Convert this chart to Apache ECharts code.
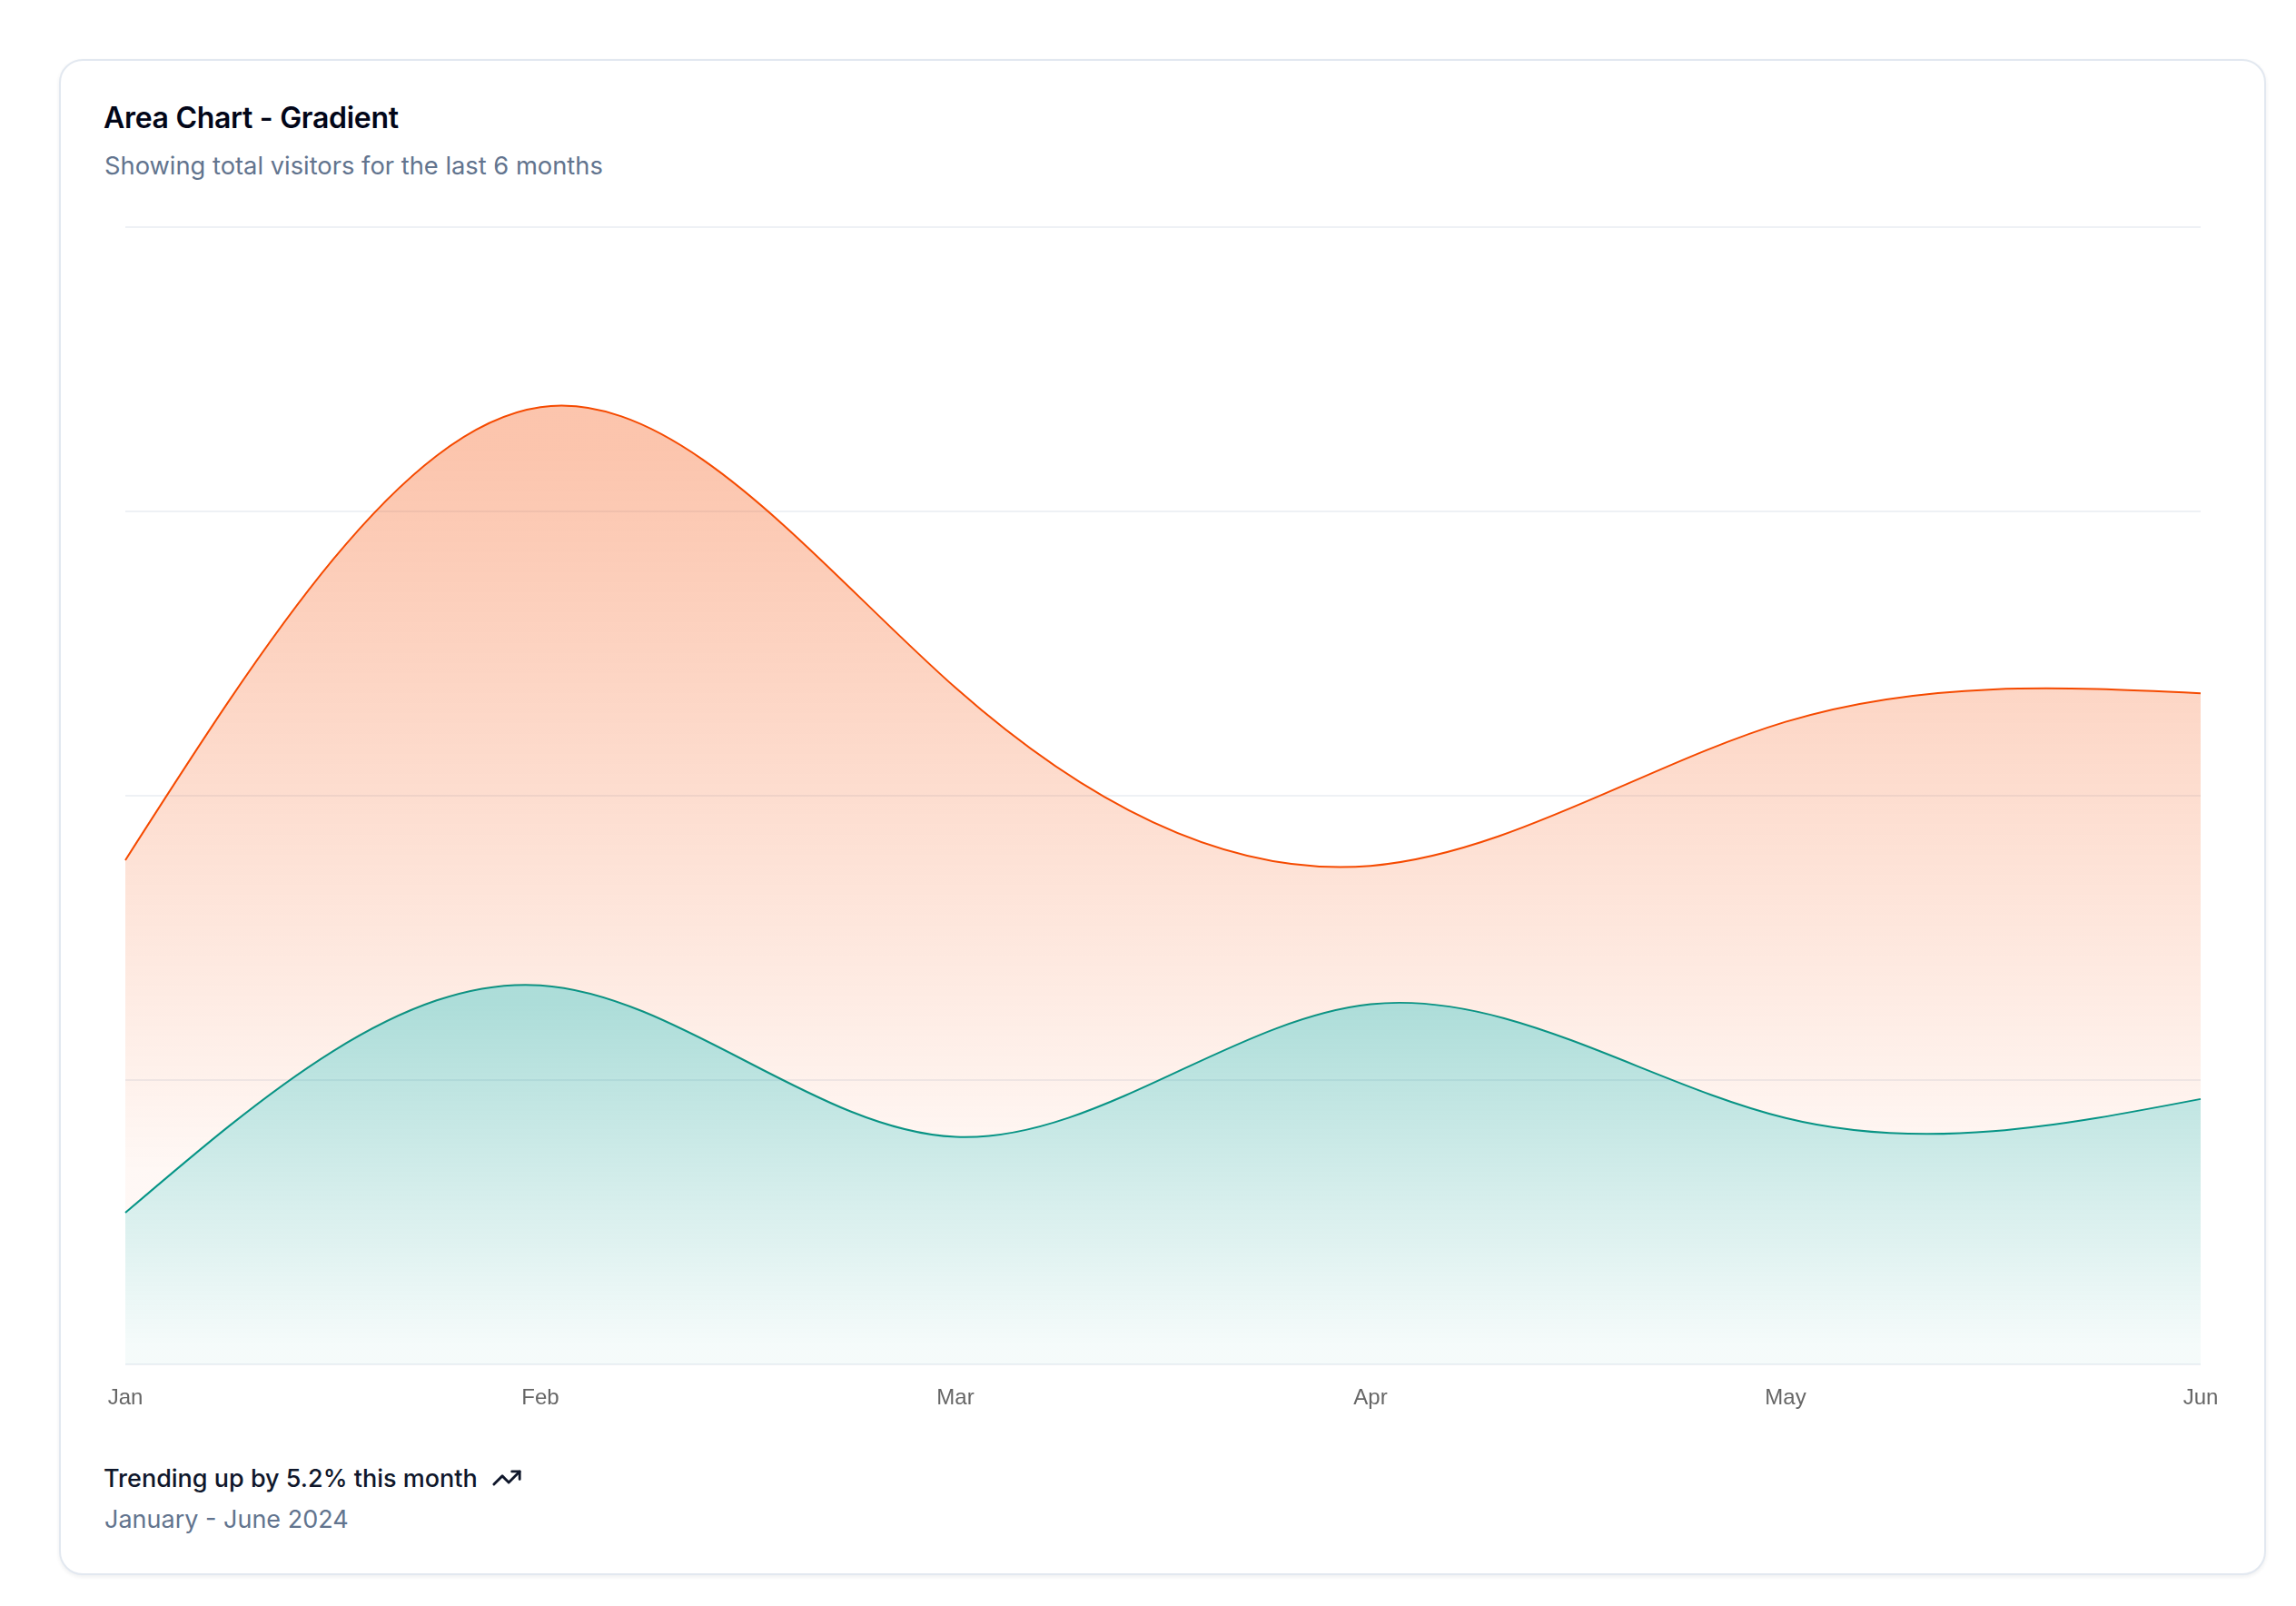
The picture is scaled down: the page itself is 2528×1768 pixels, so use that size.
<!DOCTYPE html>
<html>
<head>
<meta charset="utf-8">
<script src="https://cdn.jsdelivr.net/npm/echarts@6/dist/echarts.min.js"></script>
<style>
  html, body { margin: 0; padding: 0; background: #ffffff; width: 2528px; height: 1768px; overflow: hidden; font-family: Inter, "Noto Sans", sans-serif; }
  .card { position: absolute; left: 65px; top: 65px; width: 2426px; height: 1665px; border: 2px solid #e2e8f0; border-radius: 26px; box-shadow: 0 2px 4px rgba(15,23,42,0.07); background: #fff; }
  .t { position: absolute; white-space: nowrap; line-height: 1; }
  #chart { position: absolute; left: 0; top: 0; width: 2528px; height: 1768px; }
</style>
</head>
<body>
<div class="card"></div>
<div class="t" style="left:114px; top:114px; font-size:32px; font-weight:600; color:#020618; letter-spacing:-0.3px;">Area Chart - Gradient</div>
<div class="t" style="left:115px; top:169px; font-size:27.3px; font-weight:400; color:#62748e;">Showing total visitors for the last 6 months</div>
<div class="t" style="left:114px; top:1610px; font-size:27px; font-weight:500; color:#0f172b; display:flex; align-items:center;">Trending up by 5.2% this month
  <svg style="margin-left:15px;" width="34" height="34" viewBox="0 0 24 24" fill="none" stroke="#0f172b" stroke-width="2" stroke-linecap="round" stroke-linejoin="round"><polyline points="22 7 13.5 15.5 8.5 10.5 2 17"></polyline><polyline points="16 7 22 7 22 13"></polyline></svg>
</div>
<div class="t" style="left:115px; top:1659px; font-size:27px; font-weight:400; color:#62748e;">January - June 2024</div>
<div id="chart"></div>
<script>
const months = ['January', 'February', 'March', 'April', 'May', 'June'];
const desktop = [186, 305, 237, 73, 209, 214];
const mobile = [80, 200, 120, 190, 130, 140];
const yTicks = { min: 0, max: 600, interval: 150 };

const orange = '#f54a00';
const teal = '#009689';

// stacked tops (desktop is stacked on mobile)
const mobileTop = mobile.slice();
const desktopTop = desktop.map((v, i) => v + mobile[i]);
const zeroBase = mobile.map(() => 0);

function grad(hex) {
  const r = parseInt(hex.slice(1,3),16), g = parseInt(hex.slice(3,5),16), b = parseInt(hex.slice(5,7),16);
  const a = 0.4;
  return new echarts.graphic.LinearGradient(0, 0, 0, 1, [
    { offset: 0, color: `rgba(${r},${g},${b},${0.8*a})` },
    { offset: 0.05, color: `rgba(${r},${g},${b},${0.8*a})` },
    { offset: 0.95, color: `rgba(${r},${g},${b},${0.1*a})` },
    { offset: 1, color: `rgba(${r},${g},${b},${0.1*a})` }
  ]);
}

// natural cubic spline control points (same construction as d3 curveNatural)
function controlPoints(x) {
  const n = x.length - 1;
  const a = new Array(n), b = new Array(n), r = new Array(n);
  let m;
  a[0] = 0; b[0] = 2; r[0] = x[0] + 2 * x[1];
  for (let i = 1; i < n - 1; ++i) { a[i] = 1; b[i] = 4; r[i] = 4 * x[i] + 2 * x[i + 1]; }
  a[n - 1] = 2; b[n - 1] = 7; r[n - 1] = 8 * x[n - 1] + x[n];
  for (let i = 1; i < n; ++i) { m = a[i] / b[i - 1]; b[i] -= m; r[i] -= m * r[i - 1]; }
  a[n - 1] = r[n - 1] / b[n - 1];
  for (let i = n - 2; i >= 0; --i) a[i] = (r[i] - a[i + 1]) / b[i];
  b[n - 1] = (x[n] + a[n - 1]) / 2;
  for (let i = 0; i < n - 1; ++i) b[i] = 2 * x[i + 1] - a[i + 1];
  return [a, b];
}
function naturalPath(pts, moveFirst) {
  const xs = pts.map(p => p[0]), ys = pts.map(p => p[1]);
  const px = controlPoints(xs), py = controlPoints(ys);
  let d = (moveFirst ? 'M' : 'L') + xs[0] + ',' + ys[0];
  for (let i = 0; i < xs.length - 1; i++) {
    d += 'C' + px[0][i] + ',' + py[0][i] + ' ' + px[1][i] + ',' + py[1][i] + ' ' + xs[i + 1] + ',' + ys[i + 1];
  }
  return d;
}

function areaSeries(name, top, base, color) {
  return {
    name: name,
    type: 'custom',
    data: top.map((v, i) => [i, v]),
    encode: { x: 0, y: 1 },
    silent: true,
    renderItem: function (params, api) {
      if (params.dataIndex !== 0) return null;
      const topPts = top.map((v, i) => api.coord([i, v]));
      const basePts = base.map((v, i) => api.coord([i, v])).reverse();
      const linePath = naturalPath(topPts, true);
      let areaPath = linePath;
      if (base.every(v => v === 0)) {
        areaPath += 'L' + basePts[0][0] + ',' + basePts[0][1] + 'L' + basePts[basePts.length - 1][0] + ',' + basePts[basePts.length - 1][1] + 'Z';
      } else {
        areaPath += naturalPath(basePts, false) + 'Z';
      }
      return {
        type: 'group',
        children: [
          { type: 'path', shape: { pathData: areaPath }, style: { fill: grad(color), stroke: null } },
          { type: 'path', shape: { pathData: linePath }, style: { fill: null, stroke: color, lineWidth: 2 } }
        ]
      };
    }
  };
}

const chart = echarts.init(document.getElementById('chart'), null, { renderer: 'canvas' });
chart.setOption({
  animation: false,
  grid: { left: 138, right: 105, top: 250, bottom: 266, containLabel: false },
  xAxis: {
    type: 'category',
    data: months,
    boundaryGap: false,
    axisLine: { show: false },
    axisTick: { show: false },
    splitLine: { show: false },
    axisLabel: {
      formatter: v => v.slice(0, 3),
      color: '#666666',
      fontSize: 24,
      fontFamily: 'Liberation Sans, Arial, sans-serif',
      margin: 25,
      interval: 0
    }
  },
  yAxis: {
    type: 'value',
    min: yTicks.min, max: yTicks.max, interval: yTicks.interval,
    axisLabel: { show: false },
    axisLine: { show: false },
    axisTick: { show: false },
    splitLine: { show: true, lineStyle: { color: '#eef1f5', width: 2 } }
  },
  series: [
    areaSeries('mobile', mobileTop, zeroBase, teal),
    areaSeries('desktop', desktopTop, mobileTop, orange)
  ]
});
</script>
</body>
</html>
